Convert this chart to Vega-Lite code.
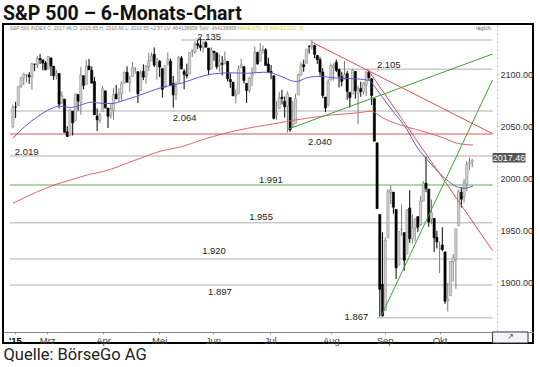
{
  "$schema": "https://vega.github.io/schema/vega-lite/v6.json",
  "width": 530,
  "height": 319,
  "autosize": "none",
  "padding": {"left": 3, "top": 24, "right": 7, "bottom": 24},
  "background": "white",
  "config": {"view": {"stroke": "#000", "strokeWidth": 2}, "font": "Liberation Sans"},
  "title": {"text": "S&P 500 – 6-Monats-Chart", "anchor": "start", "font": "Roboto", "fontSize": 19.5, "fontWeight": "bold", "color": "#111", "offset": 0},
  "resolve": {"axis": {"x": "independent", "y": "independent"}},
  "datasets": {
    "candles": [
      {"d":"2015-02-10","i":0,"o":2049.4,"h":2070.9,"l":2048.6,"c":2068.6},
      {"d":"2015-02-11","i":1,"o":2068.6,"h":2073.5,"l":2058.0,"c":2068.5},
      {"d":"2015-02-12","i":2,"o":2070.0,"h":2088.5,"l":2070.0,"c":2088.5},
      {"d":"2015-02-13","i":3,"o":2088.8,"h":2097.0,"l":2086.7,"c":2097.0},
      {"d":"2015-02-17","i":4,"o":2096.5,"h":2101.3,"l":2089.8,"c":2100.3},
      {"d":"2015-02-18","i":5,"o":2099.2,"h":2100.2,"l":2092.2,"c":2099.7},
      {"d":"2015-02-19","i":6,"o":2099.2,"h":2102.1,"l":2090.8,"c":2097.5},
      {"d":"2015-02-20","i":7,"o":2097.6,"h":2111.0,"l":2085.4,"c":2110.3},
      {"d":"2015-02-23","i":8,"o":2109.8,"h":2110.1,"l":2103.0,"c":2109.7},
      {"d":"2015-02-24","i":9,"o":2109.1,"h":2117.9,"l":2105.9,"c":2115.5},
      {"d":"2015-02-25","i":10,"o":2115.3,"h":2119.6,"l":2109.9,"c":2113.9},
      {"d":"2015-02-26","i":11,"o":2113.9,"h":2113.9,"l":2103.8,"c":2110.7},
      {"d":"2015-02-27","i":12,"o":2110.9,"h":2112.7,"l":2103.8,"c":2104.5},
      {"d":"2015-03-02","i":13,"o":2105.2,"h":2117.5,"l":2104.5,"c":2117.4},
      {"d":"2015-03-03","i":14,"o":2115.8,"h":2115.8,"l":2098.3,"c":2107.8},
      {"d":"2015-03-04","i":15,"o":2107.7,"h":2107.7,"l":2094.5,"c":2098.5},
      {"d":"2015-03-05","i":16,"o":2098.5,"h":2104.3,"l":2095.2,"c":2101.0},
      {"d":"2015-03-06","i":17,"o":2100.9,"h":2100.9,"l":2067.3,"c":2071.3},
      {"d":"2015-03-09","i":18,"o":2072.3,"h":2083.5,"l":2072.2,"c":2079.4},
      {"d":"2015-03-10","i":19,"o":2076.1,"h":2076.1,"l":2044.2,"c":2044.2},
      {"d":"2015-03-11","i":20,"o":2044.7,"h":2050.1,"l":2039.7,"c":2040.2},
      {"d":"2015-03-12","i":21,"o":2041.1,"h":2066.4,"l":2041.1,"c":2066.0},
      {"d":"2015-03-13","i":22,"o":2064.6,"h":2064.6,"l":2041.2,"c":2053.4},
      {"d":"2015-03-16","i":23,"o":2055.4,"h":2081.4,"l":2055.4,"c":2081.2},
      {"d":"2015-03-17","i":24,"o":2080.6,"h":2080.6,"l":2065.1,"c":2074.3},
      {"d":"2015-03-18","i":25,"o":2072.8,"h":2106.9,"l":2061.2,"c":2099.5},
      {"d":"2015-03-19","i":26,"o":2098.7,"h":2098.7,"l":2085.6,"c":2089.3},
      {"d":"2015-03-20","i":27,"o":2090.3,"h":2113.9,"l":2090.3,"c":2108.1},
      {"d":"2015-03-23","i":28,"o":2108.0,"h":2114.9,"l":2104.4,"c":2104.4},
      {"d":"2015-03-24","i":29,"o":2103.9,"h":2107.6,"l":2091.5,"c":2091.5},
      {"d":"2015-03-25","i":30,"o":2093.1,"h":2097.4,"l":2061.1,"c":2061.1},
      {"d":"2015-03-26","i":31,"o":2059.9,"h":2067.1,"l":2045.5,"c":2056.2},
      {"d":"2015-03-27","i":32,"o":2055.8,"h":2062.8,"l":2053.0,"c":2061.0},
      {"d":"2015-03-30","i":33,"o":2064.1,"h":2089.0,"l":2064.1,"c":2086.2},
      {"d":"2015-03-31","i":34,"o":2084.1,"h":2084.1,"l":2067.0,"c":2067.9},
      {"d":"2015-04-01","i":35,"o":2067.6,"h":2067.6,"l":2048.4,"c":2059.7},
      {"d":"2015-04-02","i":36,"o":2060.0,"h":2072.2,"l":2057.3,"c":2067.0},
      {"d":"2015-04-06","i":37,"o":2064.9,"h":2087.0,"l":2056.5,"c":2080.6},
      {"d":"2015-04-07","i":38,"o":2080.8,"h":2089.8,"l":2076.1,"c":2076.3},
      {"d":"2015-04-08","i":39,"o":2076.9,"h":2086.7,"l":2073.3,"c":2081.9},
      {"d":"2015-04-09","i":40,"o":2081.3,"h":2093.3,"l":2074.3,"c":2091.2},
      {"d":"2015-04-10","i":41,"o":2091.5,"h":2102.6,"l":2091.5,"c":2102.1},
      {"d":"2015-04-13","i":42,"o":2102.0,"h":2107.7,"l":2092.3,"c":2092.4},
      {"d":"2015-04-14","i":43,"o":2092.3,"h":2098.6,"l":2083.2,"c":2095.8},
      {"d":"2015-04-15","i":44,"o":2097.8,"h":2111.9,"l":2097.8,"c":2106.6},
      {"d":"2015-04-16","i":45,"o":2105.0,"h":2107.0,"l":2100.8,"c":2105.0},
      {"d":"2015-04-17","i":46,"o":2102.6,"h":2102.6,"l":2072.4,"c":2081.2},
      {"d":"2015-04-20","i":47,"o":2084.1,"h":2103.9,"l":2084.1,"c":2100.4},
      {"d":"2015-04-21","i":48,"o":2102.8,"h":2109.6,"l":2094.4,"c":2097.3},
      {"d":"2015-04-22","i":49,"o":2098.3,"h":2109.0,"l":2091.1,"c":2108.0},
      {"d":"2015-04-23","i":50,"o":2107.2,"h":2120.5,"l":2103.2,"c":2112.9},
      {"d":"2015-04-24","i":51,"o":2112.8,"h":2120.9,"l":2112.8,"c":2117.7},
      {"d":"2015-04-27","i":52,"o":2119.3,"h":2125.9,"l":2107.0,"c":2108.9},
      {"d":"2015-04-28","i":53,"o":2108.4,"h":2116.0,"l":2094.9,"c":2114.8},
      {"d":"2015-04-29","i":54,"o":2112.5,"h":2113.7,"l":2097.4,"c":2106.9},
      {"d":"2015-04-30","i":55,"o":2105.5,"h":2105.5,"l":2077.6,"c":2085.5},
      {"d":"2015-05-01","i":56,"o":2087.4,"h":2108.4,"l":2087.4,"c":2108.3},
      {"d":"2015-05-04","i":57,"o":2110.2,"h":2121.0,"l":2108.3,"c":2114.5},
      {"d":"2015-05-05","i":58,"o":2112.6,"h":2115.2,"l":2088.5,"c":2089.5},
      {"d":"2015-05-06","i":59,"o":2091.3,"h":2098.4,"l":2067.9,"c":2080.2},
      {"d":"2015-05-07","i":60,"o":2080.0,"h":2092.9,"l":2075.0,"c":2088.0},
      {"d":"2015-05-08","i":61,"o":2092.1,"h":2117.7,"l":2092.1,"c":2116.1},
      {"d":"2015-05-11","i":62,"o":2115.6,"h":2117.7,"l":2104.6,"c":2105.3},
      {"d":"2015-05-12","i":63,"o":2102.9,"h":2105.1,"l":2085.6,"c":2099.9},
      {"d":"2015-05-13","i":64,"o":2099.6,"h":2110.2,"l":2096.0,"c":2098.5},
      {"d":"2015-05-14","i":65,"o":2100.4,"h":2121.5,"l":2100.4,"c":2121.1},
      {"d":"2015-05-15","i":66,"o":2122.1,"h":2123.9,"l":2116.8,"c":2122.7},
      {"d":"2015-05-18","i":67,"o":2121.3,"h":2131.8,"l":2120.0,"c":2129.2},
      {"d":"2015-05-19","i":68,"o":2129.5,"h":2133.0,"l":2124.5,"c":2127.8},
      {"d":"2015-05-20","i":69,"o":2127.8,"h":2134.7,"l":2122.6,"c":2125.9},
      {"d":"2015-05-21","i":70,"o":2125.6,"h":2131.8,"l":2120.9,"c":2130.8},
      {"d":"2015-05-22","i":71,"o":2130.4,"h":2132.2,"l":2126.1,"c":2126.1},
      {"d":"2015-05-26","i":72,"o":2125.3,"h":2125.3,"l":2099.2,"c":2104.2},
      {"d":"2015-05-27","i":73,"o":2105.1,"h":2126.2,"l":2105.1,"c":2123.5},
      {"d":"2015-05-28","i":74,"o":2122.3,"h":2122.3,"l":2112.9,"c":2120.8},
      {"d":"2015-05-29","i":75,"o":2120.7,"h":2120.7,"l":2104.9,"c":2107.4},
      {"d":"2015-06-01","i":76,"o":2108.6,"h":2119.2,"l":2102.5,"c":2111.7},
      {"d":"2015-06-02","i":77,"o":2110.4,"h":2117.6,"l":2099.1,"c":2109.6},
      {"d":"2015-06-03","i":78,"o":2110.6,"h":2121.9,"l":2109.6,"c":2114.1},
      {"d":"2015-06-04","i":79,"o":2112.4,"h":2112.9,"l":2093.2,"c":2095.8},
      {"d":"2015-06-05","i":80,"o":2095.1,"h":2101.0,"l":2087.0,"c":2092.8},
      {"d":"2015-06-08","i":81,"o":2092.3,"h":2093.0,"l":2079.1,"c":2079.3},
      {"d":"2015-06-09","i":82,"o":2079.1,"h":2085.6,"l":2072.1,"c":2080.2},
      {"d":"2015-06-10","i":83,"o":2081.1,"h":2108.5,"l":2081.1,"c":2105.2},
      {"d":"2015-06-11","i":84,"o":2106.2,"h":2115.0,"l":2106.2,"c":2108.9},
      {"d":"2015-06-12","i":85,"o":2107.4,"h":2107.4,"l":2091.3,"c":2094.1},
      {"d":"2015-06-15","i":86,"o":2091.3,"h":2091.3,"l":2072.5,"c":2084.4},
      {"d":"2015-06-16","i":87,"o":2084.3,"h":2097.4,"l":2082.1,"c":2096.3},
      {"d":"2015-06-17","i":88,"o":2097.4,"h":2106.8,"l":2088.9,"c":2100.4},
      {"d":"2015-06-18","i":89,"o":2101.6,"h":2126.7,"l":2101.6,"c":2121.2},
      {"d":"2015-06-19","i":90,"o":2121.1,"h":2121.6,"l":2109.4,"c":2110.0},
      {"d":"2015-06-22","i":91,"o":2112.5,"h":2129.9,"l":2112.5,"c":2122.9},
      {"d":"2015-06-23","i":92,"o":2123.2,"h":2128.0,"l":2119.9,"c":2124.2},
      {"d":"2015-06-24","i":93,"o":2123.6,"h":2125.1,"l":2108.6,"c":2108.6},
      {"d":"2015-06-25","i":94,"o":2110.0,"h":2116.0,"l":2101.8,"c":2102.3},
      {"d":"2015-06-26","i":95,"o":2102.6,"h":2108.9,"l":2095.4,"c":2101.5},
      {"d":"2015-06-29","i":96,"o":2098.6,"h":2098.6,"l":2056.6,"c":2057.6},
      {"d":"2015-06-30","i":97,"o":2061.2,"h":2074.3,"l":2056.3,"c":2063.1},
      {"d":"2015-07-01","i":98,"o":2067.0,"h":2082.8,"l":2067.0,"c":2077.4},
      {"d":"2015-07-02","i":99,"o":2078.0,"h":2085.1,"l":2071.0,"c":2076.8},
      {"d":"2015-07-06","i":100,"o":2074.0,"h":2078.6,"l":2058.4,"c":2068.8},
      {"d":"2015-07-07","i":101,"o":2069.5,"h":2083.7,"l":2044.0,"c":2081.3},
      {"d":"2015-07-08","i":102,"o":2077.7,"h":2077.7,"l":2044.7,"c":2046.7},
      {"d":"2015-07-09","i":103,"o":2049.7,"h":2074.3,"l":2049.7,"c":2051.3},
      {"d":"2015-07-10","i":104,"o":2052.7,"h":2081.3,"l":2052.7,"c":2076.6},
      {"d":"2015-07-13","i":105,"o":2080.0,"h":2100.7,"l":2080.0,"c":2099.6},
      {"d":"2015-07-14","i":106,"o":2099.7,"h":2112.0,"l":2098.2,"c":2109.0},
      {"d":"2015-07-15","i":107,"o":2109.2,"h":2114.1,"l":2102.5,"c":2107.4},
      {"d":"2015-07-16","i":108,"o":2110.6,"h":2124.4,"l":2110.6,"c":2124.3},
      {"d":"2015-07-17","i":109,"o":2126.8,"h":2128.0,"l":2119.9,"c":2126.6},
      {"d":"2015-07-20","i":110,"o":2126.9,"h":2132.8,"l":2123.7,"c":2128.3},
      {"d":"2015-07-21","i":111,"o":2127.6,"h":2128.5,"l":2115.4,"c":2119.2},
      {"d":"2015-07-22","i":112,"o":2118.2,"h":2118.5,"l":2110.0,"c":2114.2},
      {"d":"2015-07-23","i":113,"o":2114.2,"h":2116.9,"l":2098.6,"c":2102.2},
      {"d":"2015-07-24","i":114,"o":2102.2,"h":2106.0,"l":2077.1,"c":2079.7},
      {"d":"2015-07-27","i":115,"o":2078.2,"h":2078.2,"l":2063.5,"c":2067.6},
      {"d":"2015-07-28","i":116,"o":2070.8,"h":2095.6,"l":2069.1,"c":2093.3},
      {"d":"2015-07-29","i":117,"o":2094.7,"h":2110.6,"l":2094.1,"c":2108.6},
      {"d":"2015-07-30","i":118,"o":2106.8,"h":2110.5,"l":2094.1,"c":2108.6},
      {"d":"2015-07-31","i":119,"o":2111.6,"h":2114.2,"l":2102.1,"c":2103.8},
      {"d":"2015-08-03","i":120,"o":2104.5,"h":2105.7,"l":2087.3,"c":2098.0},
      {"d":"2015-08-04","i":121,"o":2097.7,"h":2102.5,"l":2088.6,"c":2093.3},
      {"d":"2015-08-05","i":122,"o":2095.3,"h":2112.7,"l":2095.3,"c":2099.8},
      {"d":"2015-08-06","i":123,"o":2100.8,"h":2103.3,"l":2075.5,"c":2083.6},
      {"d":"2015-08-07","i":124,"o":2082.6,"h":2082.6,"l":2067.9,"c":2077.6},
      {"d":"2015-08-10","i":125,"o":2081.0,"h":2105.4,"l":2081.0,"c":2104.2},
      {"d":"2015-08-11","i":126,"o":2102.7,"h":2102.7,"l":2076.5,"c":2084.1},
      {"d":"2015-08-12","i":127,"o":2081.1,"h":2089.1,"l":2052.1,"c":2086.1},
      {"d":"2015-08-13","i":128,"o":2086.2,"h":2092.9,"l":2078.3,"c":2083.4},
      {"d":"2015-08-14","i":129,"o":2083.2,"h":2092.5,"l":2080.6,"c":2091.5},
      {"d":"2015-08-17","i":130,"o":2089.7,"h":2102.9,"l":2079.3,"c":2102.4},
      {"d":"2015-08-18","i":131,"o":2102.0,"h":2103.5,"l":2094.1,"c":2096.9},
      {"d":"2015-08-19","i":132,"o":2095.7,"h":2096.2,"l":2070.5,"c":2079.6},
      {"d":"2015-08-20","i":133,"o":2076.6,"h":2076.6,"l":2035.7,"c":2035.7},
      {"d":"2015-08-21","i":134,"o":2034.1,"h":2034.1,"l":1970.9,"c":1970.9},
      {"d":"2015-08-24","i":135,"o":1965.2,"h":1965.2,"l":1867.0,"c":1893.2},
      {"d":"2015-08-25","i":136,"o":1898.1,"h":1948.0,"l":1867.1,"c":1867.6},
      {"d":"2015-08-26","i":137,"o":1872.8,"h":1943.1,"l":1872.8,"c":1940.5},
      {"d":"2015-08-27","i":138,"o":1942.8,"h":1989.6,"l":1942.8,"c":1987.7},
      {"d":"2015-08-28","i":139,"o":1986.1,"h":1993.5,"l":1975.2,"c":1988.9},
      {"d":"2015-08-31","i":140,"o":1986.7,"h":1986.7,"l":1966.0,"c":1972.2},
      {"d":"2015-09-01","i":141,"o":1970.1,"h":1970.1,"l":1903.1,"c":1913.9},
      {"d":"2015-09-02","i":142,"o":1916.5,"h":1948.9,"l":1916.5,"c":1948.9},
      {"d":"2015-09-03","i":143,"o":1950.8,"h":1975.0,"l":1944.7,"c":1951.1},
      {"d":"2015-09-04","i":144,"o":1947.8,"h":1947.8,"l":1911.2,"c":1921.2},
      {"d":"2015-09-08","i":145,"o":1927.3,"h":1970.4,"l":1927.3,"c":1969.4},
      {"d":"2015-09-09","i":146,"o":1971.5,"h":1988.6,"l":1937.9,"c":1942.0},
      {"d":"2015-09-10","i":147,"o":1941.6,"h":1965.3,"l":1937.2,"c":1952.3},
      {"d":"2015-09-11","i":148,"o":1951.5,"h":1961.1,"l":1939.2,"c":1961.1},
      {"d":"2015-09-14","i":149,"o":1963.1,"h":1963.1,"l":1948.3,"c":1953.0},
      {"d":"2015-09-15","i":150,"o":1955.1,"h":1983.2,"l":1954.3,"c":1978.1},
      {"d":"2015-09-16","i":151,"o":1978.0,"h":1997.3,"l":1977.9,"c":1995.3},
      {"d":"2015-09-17","i":152,"o":1995.3,"h":2020.9,"l":1986.7,"c":1990.2},
      {"d":"2015-09-18","i":153,"o":1989.7,"h":1989.7,"l":1953.5,"c":1958.0},
      {"d":"2015-09-21","i":154,"o":1960.8,"h":1979.6,"l":1955.8,"c":1967.0},
      {"d":"2015-09-22","i":155,"o":1961.4,"h":1961.4,"l":1929.2,"c":1942.7},
      {"d":"2015-09-23","i":156,"o":1943.2,"h":1949.5,"l":1932.6,"c":1938.8},
      {"d":"2015-09-24","i":157,"o":1932.2,"h":1939.2,"l":1908.9,"c":1932.2},
      {"d":"2015-09-25","i":158,"o":1935.9,"h":1952.9,"l":1929.8,"c":1931.3},
      {"d":"2015-09-28","i":159,"o":1929.2,"h":1929.2,"l":1879.2,"c":1881.8},
      {"d":"2015-09-29","i":160,"o":1881.9,"h":1899.5,"l":1871.9,"c":1884.1},
      {"d":"2015-09-30","i":161,"o":1887.1,"h":1920.5,"l":1887.1,"c":1920.0},
      {"d":"2015-10-01","i":162,"o":1919.7,"h":1927.2,"l":1900.7,"c":1923.8},
      {"d":"2015-10-02","i":163,"o":1921.8,"h":1951.4,"l":1893.7,"c":1951.4},
      {"d":"2015-10-05","i":164,"o":1954.3,"h":1989.2,"l":1954.3,"c":1987.1},
      {"d":"2015-10-06","i":165,"o":1986.6,"h":1991.6,"l":1972.0,"c":1979.9},
      {"d":"2015-10-07","i":166,"o":1982.3,"h":1999.3,"l":1976.4,"c":1995.8},
      {"d":"2015-10-08","i":167,"o":1994.0,"h":2016.5,"l":1987.5,"c":2013.4},
      {"d":"2015-10-09","i":168,"o":2013.7,"h":2020.1,"l":2007.6,"c":2014.9},
      {"d":"2015-10-12","i":169,"o":2015.7,"h":2018.7,"l":2010.6,"c":2017.5}
    ],
    "levels": [
      {"v": 2133.0, "a": 62, "b": 176.5},
      {"v": 2104.8, "a": 120, "b": 176.5},
      {"v": 2064.7, "a": -1.08, "b": 176.5},
      {"v": 2021.4, "a": -1.08, "b": 176.5},
      {"v": 1957.3, "a": -1.08, "b": 176.5},
      {"v": 1922.4, "a": -1.08, "b": 176.5},
      {"v": 1897.4, "a": -1.08, "b": 176.5},
      {"v": 1866.0, "a": 134, "b": 176.5}
    ],
    "greenLevel": [{"v": 1993.6, "a": -1.08, "b": 176.5}],
    "redLevel": [{"v": 2042.6, "a": -1.08, "b": 176.5}],
    "ma50": [
      {"i":0,"v":2038.5},{"i":4.3,"v":2049.6},{"i":9,"v":2059.2},{"i":14.1,"v":2067},{"i":17,"v":2069.5},
      {"i":21.3,"v":2068},{"i":24.9,"v":2070.5},{"i":28.9,"v":2073.2},{"i":33.2,"v":2072},{"i":36.8,"v":2072},
      {"i":40.4,"v":2074.6},{"i":45.1,"v":2078.5},{"i":50.2,"v":2083.3},{"i":54.9,"v":2087.5},{"i":62.1,"v":2091.5},
      {"i":68.2,"v":2097},{"i":74,"v":2100.5},{"i":80.1,"v":2101.5},{"i":86.3,"v":2101},{"i":92.1,"v":2102},
      {"i":94.6,"v":2101.5},{"i":98.2,"v":2098.5},{"i":104.3,"v":2093},{"i":108,"v":2096.5},{"i":112.6,"v":2098},
      {"i":118.8,"v":2096.5},{"i":127.1,"v":2095.5},{"i":131,"v":2094},{"i":134.3,"v":2084},{"i":137.9,"v":2071},
      {"i":141.5,"v":2059.2},{"i":145.1,"v":2046.4},{"i":148.7,"v":2030},{"i":153.1,"v":2016},{"i":157,"v":2004.8},
      {"i":160.3,"v":1997},{"i":163.2,"v":1992},{"i":166.1,"v":1990.4},{"i":169.3,"v":1992.6}
    ],
    "ma200": [
      {"i":0,"v":1976},{"i":9,"v":1987},{"i":15.2,"v":1993.6},{"i":21.3,"v":1998.4},{"i":28.5,"v":2004},
      {"i":33.2,"v":2006.5},{"i":45.1,"v":2017.6},{"i":54.9,"v":2026.5},{"i":62.1,"v":2030.4},{"i":69.3,"v":2036.8},
      {"i":77.6,"v":2043},{"i":86.3,"v":2048.1},{"i":93.5,"v":2051.3},{"i":98.2,"v":2053.5},{"i":108,"v":2057.7},
      {"i":117.3,"v":2060.9},{"i":127.1,"v":2063},{"i":131.8,"v":2064.5},{"i":136.1,"v":2058},{"i":140.4,"v":2053.2},
      {"i":145.1,"v":2049.3},{"i":151.3,"v":2044.8},{"i":158.5,"v":2038.8},{"i":163.2,"v":2033.9},{"i":169.3,"v":2032}
    ],
    "redTrends": [
      {"n":1,"i":110,"v":2131},{"n":1,"i":176.5,"v":2042.9},
      {"n":2,"i":130.5,"v":2105},{"n":2,"i":176.5,"v":1930.4}
    ],
    "greenTrends": [
      {"n":1,"i":101.1,"v":2047.1},{"n":1,"i":176.5,"v":2119.5},
      {"n":2,"i":135.5,"v":1867.5},{"n":2,"i":176.5,"v":2094.7}
    ],
    "levelLabels": [
      {"t":"2.135","i":72.2,"v":2136.3},
      {"t":"2.105","i":138.3,"v":2109.4},
      {"t":"2.064","i":63.2,"v":2058},
      {"t":"2.040","i":113,"v":2035.2},
      {"t":"2.019","i":5.05,"v":2025.6},
      {"t":"1.991","i":94.9,"v":1998.7},
      {"t":"1.955","i":91.3,"v":1962.8},
      {"t":"1.920","i":74,"v":1930.1},
      {"t":"1.897","i":76.2,"v":1890.7},
      {"t":"1.867","i":126.4,"v":1866.6}
    ],
    "header": [
      {"t":"S&P 500 INDEX  C: 2017.46  O: 2015.65  H: 2018.66  L: 2010.55  +2.57  LV: 464138958  TotV: 464138958","i":-1.2,"v":2144.5}
    ],
    "headerMa": [
      {"t":"MAVE1(50, 0)  MAVE2(200, 0)","i":82.6,"v":2144.5}
    ],
    "interval": [
      {"t":"täglich","i":170.4,"v":2144.5}
    ],
    "lastPrice": [
      {"t":"2017.46","a":176.5,"b":188.6,"lo":2015.1,"hi":2024.3,"i":182.5,"v":2019.7}
    ],
    "cornerBox": [
      {"a":176.5,"b":189.53,"lo":1841.6,"hi":1852.2,"i":183,"v":1847,"t":"↗"}
    ]
  },
  "layer": [
    {
      "data": {"name": "levels"},
      "mark": {"type": "rule", "color": "#c9c9c9", "strokeWidth": 1.5},
      "encoding": {
        "x": {"field": "a", "type": "quantitative",
          "scale": {"domain": [-1.805, 189.53], "nice": false, "zero": false},
          "axis": {
            "orient": "bottom", "offset": -11,
            "values": [0.7, 12.6, 33.2, 53.8, 73.6, 94.6, 117, 136.8, 157],
            "labelExpr": "datum.value < 5 ? \"'15\" : datum.value < 20 ? 'Mrz' : datum.value < 40 ? 'Apr' : datum.value < 60 ? 'Mei' : datum.value < 80 ? 'Jun' : datum.value < 100 ? 'Jul' : datum.value < 125 ? 'Aug' : datum.value < 145 ? 'Sep' : 'Okt'",
            "labelFont": "Liberation Sans", "labelFontSize": 9.5,
            "labelColor": {"condition": {"test": "datum.value < 5", "value": "#000"}, "value": "#444"},
            "labelFontWeight": {"condition": {"test": "datum.value < 5", "value": "bold"}, "value": "normal"},
            "labelOverlap": false, "labelFlush": false, "labelPadding": 1,
            "domainColor": "#8a8a8a", "domainWidth": 1, "tickColor": "#9a9a9a", "tickSize": 2,
            "grid": false,
            "title": "Quelle: BörseGo AG", "titleFont": "Roboto", "titleFontWeight": "normal",
            "titleFontSize": 16.5, "titleColor": "#222", "titleAnchor": "start", "titleAlign": "left",
            "titlePadding": 2
          }
        },
        "x2": {"field": "b"},
        "y": {"field": "v", "type": "quantitative",
          "scale": {"domain": [1841.6, 2148.4], "nice": false, "zero": false},
          "axis": {
            "orient": "right", "offset": -36,
            "values": [1900, 1950, 2000, 2050, 2100], "format": ".2f",
            "labelFont": "Liberation Sans", "labelFontSize": 9, "labelColor": "#333",
            "labelPadding": 1, "tickSize": 2, "tickColor": "#e0c850",
            "domainColor": "#e0c850", "domainDash": [2, 2], "domainWidth": 1,
            "grid": false, "title": null
          }
        }
      }
    },
    {
      "data": {"name": "greenLevel"},
      "mark": {"type": "rule", "color": "#b2d6a8", "strokeWidth": 2},
      "encoding": {
        "x": {"field": "a", "type": "quantitative", "axis": null},
        "x2": {"field": "b"},
        "y": {"field": "v", "type": "quantitative", "axis": null}
      }
    },
    {
      "data": {"name": "redLevel"},
      "mark": {"type": "rule", "color": "#eaaaaa", "strokeWidth": 2},
      "encoding": {
        "x": {"field": "a", "type": "quantitative", "axis": null},
        "x2": {"field": "b"},
        "y": {"field": "v", "type": "quantitative", "axis": null}
      }
    },
    {
      "data": {"name": "candles"},
      "mark": {"type": "rule", "strokeWidth": 1},
      "encoding": {
        "x": {"field": "i", "type": "quantitative", "axis": null},
        "y": {"field": "l", "type": "quantitative", "axis": null},
        "y2": {"field": "h"},
        "color": {"condition": {"test": "datum.c >= datum.o", "value": "#7a7a7a"}, "value": "#000"}
      }
    },
    {
      "data": {"name": "candles"},
      "mark": {"type": "bar", "size": 2.2, "strokeWidth": 0.6},
      "encoding": {
        "x": {"field": "i", "type": "quantitative", "axis": null},
        "y": {"field": "o", "type": "quantitative", "axis": null},
        "y2": {"field": "c"},
        "fill": {"condition": {"test": "datum.c >= datum.o", "value": "#d4d4d4"}, "value": "#000"},
        "stroke": {"condition": {"test": "datum.c >= datum.o", "value": "#8a8a8a"}, "value": "#000"}
      }
    },
    {
      "data": {"name": "ma50"},
      "mark": {"type": "line", "color": "#5a5ad8", "strokeWidth": 1, "interpolate": "monotone"},
      "encoding": {
        "x": {"field": "i", "type": "quantitative", "axis": null},
        "y": {"field": "v", "type": "quantitative", "axis": null}
      }
    },
    {
      "data": {"name": "ma200"},
      "mark": {"type": "line", "color": "#e06666", "strokeWidth": 1, "interpolate": "monotone"},
      "encoding": {
        "x": {"field": "i", "type": "quantitative", "axis": null},
        "y": {"field": "v", "type": "quantitative", "axis": null}
      }
    },
    {
      "data": {"name": "redTrends"},
      "mark": {"type": "line", "color": "#e05050", "strokeWidth": 1},
      "encoding": {
        "x": {"field": "i", "type": "quantitative", "axis": null},
        "y": {"field": "v", "type": "quantitative", "axis": null},
        "detail": {"field": "n", "type": "nominal"}
      }
    },
    {
      "data": {"name": "greenTrends"},
      "mark": {"type": "line", "color": "#3f9f3f", "strokeWidth": 1},
      "encoding": {
        "x": {"field": "i", "type": "quantitative", "axis": null},
        "y": {"field": "v", "type": "quantitative", "axis": null},
        "detail": {"field": "n", "type": "nominal"}
      }
    },
    {
      "data": {"name": "levelLabels"},
      "mark": {"type": "text", "font": "Liberation Sans", "fontSize": 9.5, "color": "#222", "align": "center", "baseline": "middle"},
      "encoding": {
        "x": {"field": "i", "type": "quantitative", "axis": null},
        "y": {"field": "v", "type": "quantitative", "axis": null},
        "text": {"field": "t"}
      }
    },
    {
      "data": {"name": "header"},
      "mark": {"type": "text", "font": "Liberation Sans", "fontSize": 5, "color": "#808080", "align": "left", "baseline": "middle"},
      "encoding": {
        "x": {"field": "i", "type": "quantitative", "axis": null},
        "y": {"field": "v", "type": "quantitative", "axis": null},
        "text": {"field": "t"}
      }
    },
    {
      "data": {"name": "headerMa"},
      "mark": {"type": "text", "font": "Liberation Sans", "fontSize": 5, "color": "#d8cc40", "align": "left", "baseline": "middle"},
      "encoding": {
        "x": {"field": "i", "type": "quantitative", "axis": null},
        "y": {"field": "v", "type": "quantitative", "axis": null},
        "text": {"field": "t"}
      }
    },
    {
      "data": {"name": "interval"},
      "mark": {"type": "text", "font": "Liberation Sans", "fontSize": 5.2, "color": "#666", "align": "left", "baseline": "middle"},
      "encoding": {
        "x": {"field": "i", "type": "quantitative", "axis": null},
        "y": {"field": "v", "type": "quantitative", "axis": null},
        "text": {"field": "t"}
      }
    },
    {
      "data": {"name": "lastPrice"},
      "mark": {"type": "rect", "color": "#555"},
      "encoding": {
        "x": {"field": "a", "type": "quantitative", "axis": null},
        "x2": {"field": "b"},
        "y": {"field": "lo", "type": "quantitative", "axis": null},
        "y2": {"field": "hi"}
      }
    },
    {
      "data": {"name": "lastPrice"},
      "mark": {"type": "text", "font": "Liberation Sans", "fontSize": 9, "color": "#fff", "align": "center", "baseline": "middle"},
      "encoding": {
        "x": {"field": "i", "type": "quantitative", "axis": null},
        "y": {"field": "v", "type": "quantitative", "axis": null},
        "text": {"field": "t"}
      }
    },
    {
      "data": {"name": "cornerBox"},
      "mark": {"type": "rect", "fill": "#f4f4f8", "stroke": "#333", "strokeWidth": 1},
      "encoding": {
        "x": {"field": "a", "type": "quantitative", "axis": null},
        "x2": {"field": "b"},
        "y": {"field": "lo", "type": "quantitative", "axis": null},
        "y2": {"field": "hi"}
      }
    },
    {
      "data": {"name": "cornerBox"},
      "mark": {"type": "text", "font": "DejaVu Sans", "fontSize": 8, "color": "#2a48a8", "align": "center", "baseline": "middle"},
      "encoding": {
        "x": {"field": "i", "type": "quantitative", "axis": null},
        "y": {"field": "v", "type": "quantitative", "axis": null},
        "text": {"field": "t"}
      }
    }
  ]
}
